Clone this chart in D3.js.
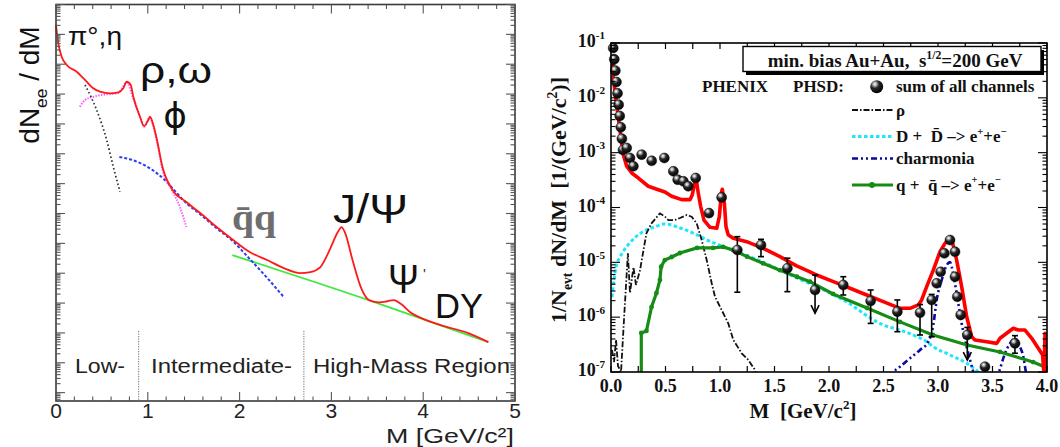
<!DOCTYPE html>
<html><head><meta charset="utf-8">
<script src="https://cdn.jsdelivr.net/npm/d3@7"></script>
<style>body{margin:0;background:#fff;} svg{display:block;}</style>
</head><body>
<svg id="c" width="1060" height="447"></svg>
<script>
// ================= LEFT PANEL DATA (M [GeV/c^2], dN/dM arb. units) =================
const leftXTicks = [0, 1, 2, 3, 4, 5];
const leftTotal = [[0,2.06e-1],[0.025,5.01e-2],[0.062,1.78e-2],[0.117,9.4e-3],[0.225,5.6e-3],[0.334,2.59e-3],[0.406,1.56e-3],[0.479,1.20e-3],[0.588,1.06e-3],[0.679,1.15e-3],[0.733,1.56e-3],[0.770,2.59e-3],[0.814,2.01e-3],[0.842,8.15e-4],[0.915,1.74e-4],[0.959,8.5e-5],[1.005,1.35e-4],[1.024,1.74e-4],[1.060,9.2e-5],[1.10,2.89e-5],[1.16,3.6e-6],[1.27,6.11e-7],[1.42,2.42e-7],[1.57,1.04e-7],[1.75,3.52e-8],[1.93,1.29e-8],[2.11,5.11e-9],[2.30,2.76e-9],[2.48,1.49e-9],[2.66,1.01e-9],[2.77,1.09e-9],[2.88,1.61e-9],[2.99,6.97e-9],[3.07,2.39e-8],[3.11,3.52e-8],[3.15,2.21e-8],[3.23,2.76e-9],[3.32,3.43e-10],[3.41,1.26e-10],[3.52,1.05e-10],[3.61,1.15e-10],[3.68,1.26e-10],[3.76,9.25e-11],[3.87,4.63e-11],[3.98,3.14e-11],[4.19,1.83e-11],[4.49,9.89e-12],[4.71,4.93e-12]];
const leftPiEta = [[0.316,2.01e-3],[0.443,2.92e-4],[0.552,2.89e-5],[0.624,3.68e-6],[0.697,5.36e-7]];
const leftVector = [[0.26,3.77e-4],[0.316,6.32e-4],[0.41,8.15e-4],[0.515,9.5e-4],[0.588,1.0e-3],[0.68,1.1e-3],[0.77,2.4e-3],[0.84,7.5e-4],[0.92,1.6e-4],[0.96,8e-5],[1.02,1.6e-4],[1.06,8.5e-5],[1.10,2.6e-5],[1.16,3.0e-6],[1.27,5.5e-7],[1.35,1.64e-7],[1.42,3.52e-8]];
const leftCharm = [[0.69,7.8e-6],[0.83,6.2e-6],[1.02,3.3e-6],[1.20,1.2e-6],[1.30,5.5e-7],[1.42,2.2e-7],[1.57,9.5e-8],[1.75,3.2e-8],[1.93,1.15e-8],[2.11,3.0e-9],[2.30,7.0e-10],[2.48,1.6e-10]];
const leftDY = [[1.92,4.06e-9],[3.50,1.0e-10],[4.71,4.93e-12]];
const regionBoundaries = [0.9, 2.7];
const regionBoundaryTop = 1.15e-11;

// ================= RIGHT PANEL DATA =================
const rightXTicks = [0.0,0.5,1.0,1.5,2.0,2.5,3.0,3.5,4.0];
const rightYExponents = [-1,-2,-3,-4,-5,-6,-7];
const phsdSum = [[0.006,6.1e-2],[0.021,2.3e-2],[0.052,7.5e-3],[0.083,2.45e-3],[0.113,9.2e-4],[0.144,5.65e-4],[0.190,4.26e-4],[0.251,3.45e-4],[0.342,2.44e-4],[0.434,2.11e-4],[0.495,1.92e-4],[0.557,1.60e-4],[0.648,1.39e-4],[0.725,1.39e-4],[0.746,1.71e-4],[0.771,3.0e-4],[0.780,3.41e-4],[0.801,1.82e-4],[0.823,1.04e-4],[0.853,5.9e-5],[0.908,4.35e-5],[0.970,4.18e-5],[0.994,6.8e-5],[1.012,1.82e-4],[1.021,2.15e-4],[1.040,1.19e-4],[1.055,4.47e-5],[1.076,3.16e-5],[1.122,2.74e-5],[1.245,2.38e-5],[1.397,1.80e-5],[1.550,1.27e-5],[1.703,8.6e-6],[1.826,6.7e-6],[1.887,5.87e-6],[2.040,4.44e-6],[2.193,3.37e-6],[2.346,2.54e-6],[2.498,1.92e-6],[2.651,1.45e-6],[2.743,1.45e-6],[2.820,1.67e-6],[2.850,2.06e-6],[2.896,3.6e-6],[2.957,7.2e-6],[3.018,1.56e-5],[3.064,2.22e-5],[3.104,2.74e-5],[3.135,2.22e-5],[3.171,1.10e-5],[3.217,3.6e-6],[3.263,1.02e-6],[3.309,4.4e-7],[3.339,3.84e-7],[3.447,3.57e-7],[3.539,3.33e-7],[3.569,4.12e-7],[3.630,5.08e-7],[3.691,6.27e-7],[3.737,5.83e-7],[3.798,5.83e-7],[3.860,4.12e-7],[3.920,2.70e-7],[3.960,2.04e-7],[3.972,9.0e-8],[3.982,5.08e-7],[3.997,8.0e-8]];
const rhoChannel = [[0.009,2.52e-7],[0.028,1.52e-7],[0.046,3.84e-7],[0.064,1.29e-7],[0.092,1.0e-7],[0.119,8.9e-7],[0.155,1.46e-5],[0.174,2.76e-6],[0.206,8.2e-6],[0.229,3.87e-6],[0.266,7.2e-6],[0.325,3.39e-5],[0.372,5.15e-5],[0.449,7.83e-5],[0.495,6.79e-5],[0.526,5.91e-5],[0.587,5.91e-5],[0.633,6.44e-5],[0.695,7.29e-5],[0.740,6.79e-5],[0.786,5.15e-5],[0.832,2.55e-5],[0.878,1.10e-5],[0.924,4.15e-6],[0.954,2.36e-6],[1.030,1.18e-6],[1.076,7.7e-7],[1.122,3.84e-7],[1.199,2.19e-7],[1.260,1.66e-7],[1.321,1.09e-7],[1.34,8.0e-8]];
const ddbarChannel = [[0.009,2.33e-6],[0.046,8.2e-6],[0.083,1.25e-5],[0.156,2.07e-5],[0.275,3.43e-5],[0.399,4.42e-5],[0.492,5.0e-5],[0.642,4.18e-5],[0.789,3.16e-5],[0.881,2.55e-5],[0.954,2.22e-5],[1.110,1.68e-5],[1.394,1.01e-5],[1.706,5.17e-6],[2.009,2.76e-6],[2.193,1.74e-6],[2.361,1.02e-6],[2.498,7.2e-7],[2.651,5.83e-7],[2.773,4.73e-7],[2.896,3.57e-7],[2.957,2.89e-7],[3.110,2.04e-7],[3.263,1.44e-7],[3.370,1.0e-7],[3.42,8.0e-8]];
const charmoniaChannel = [[2.55,8.0e-8],[2.590,1.0e-7],[2.651,1.25e-7],[2.743,1.78e-7],[2.835,2.52e-7],[2.911,3.57e-7],[2.957,7.2e-7],[2.988,2.06e-6],[3.034,4.76e-6],[3.080,8.9e-6],[3.110,1.01e-5],[3.141,5.87e-6],[3.186,1.79e-6],[3.217,7.7e-7],[3.263,2.89e-7],[3.294,1.66e-7],[3.324,1.0e-7],[3.36,6.0e-8],[3.52,6.0e-8],[3.560,1.0e-7],[3.615,2.19e-7],[3.661,3.33e-7],[3.706,4.12e-7],[3.752,2.89e-7],[3.783,1.90e-7],[3.807,1.0e-7],[3.84,7.0e-8]];
const qqbarChannel = [[0.278,8.0e-8],[0.278,5.14e-7],[0.325,5.6e-7],[0.372,1.53e-6],[0.417,2.76e-6],[0.449,4.76e-6],[0.46,8.3e-6],[0.494,1.10e-5],[0.557,1.25e-5],[0.633,1.48e-5],[0.789,1.83e-5],[0.936,1.83e-5],[1.028,1.91e-5],[1.119,1.68e-5],[1.248,1.27e-5],[1.394,9.6e-6],[1.550,7.2e-6],[1.706,5.47e-6],[1.826,4.44e-6],[2.037,2.65e-6],[2.349,1.47e-6],[2.651,8.2e-7],[2.954,4.73e-7],[3.266,3.10e-7],[3.569,2.32e-7],[3.872,1.52e-7],[3.982,1.23e-7]];
const phenixPoints = [[0.02,8.1e-2],[0.03,5.05e-2],[0.04,3.13e-2],[0.05,1.95e-2],[0.06,1.21e-2],[0.07,7.5e-3],[0.08,4.67e-3],[0.09,2.90e-3],[0.10,1.80e-3],[0.11,1.12e-3],[0.144,1.22e-3],[0.174,8.0e-4],[0.205,5.65e-4],[0.281,9.2e-4],[0.373,7.1e-4],[0.489,8.0e-4],[0.572,4.57e-4],[0.612,3.21e-4],[0.664,3.0e-4],[0.709,2.44e-4],[0.777,3.45e-4],[0.899,7.9e-5],[1.015,1.53e-4],[1.159,1.68e-5],[1.376,2.07e-5],[1.618,7.8e-6],[1.872,3.13e-6],[2.131,3.87e-6],[2.382,1.97e-6],[2.627,1.26e-6],[2.835,1.21e-6],[2.942,2.06e-6],[2.988,4.15e-6],[3.024,6.7e-6],[3.058,1.46e-5],[3.110,2.55e-5],[3.156,1.56e-5],[3.156,5.47e-6],[3.177,2.36e-6],[3.208,1.10e-6],[3.269,4.73e-7],[3.431,1.25e-7],[3.706,3.33e-7]];
const phenixErrors = [[1.159,2.85e-6,2.94e-5],[1.376,1.27e-5,2.63e-5],[1.618,2.92e-6,1.19e-5],[2.131,2.54e-6,5.47e-6],[2.382,7.7e-7,3.13e-6],[2.627,5.43e-7,2.06e-6],[2.835,4.73e-7,1.7e-6],[2.942,4.4e-7,2.6e-6],[3.706,2.2e-7,4.6e-7]];
const phenixUpperLimits = [[1.872,5.87e-6,1.18e-6],[3.269,6.5e-7,1.65e-7]];

// ================= DRAWING =================
const svg = d3.select("#c");
const defs = svg.append("defs");
const gr = defs.append("radialGradient").attr("id","ball").attr("cx","0.36").attr("cy","0.3").attr("r","0.72");
gr.append("stop").attr("offset","0").attr("stop-color","#ffffff");
gr.append("stop").attr("offset","0.16").attr("stop-color","#c0c0c0");
gr.append("stop").attr("offset","0.45").attr("stop-color","#262626");
gr.append("stop").attr("offset","1").attr("stop-color","#000");

function rich(sel, parts, base){
  let shift = 0;
  parts.forEach(([s, kind]) => {
    const target = kind === 'sup' ? -base*0.42 : kind === 'sub' ? base*0.28 : 0;
    const t = sel.append("tspan").text(s).attr("dy", target - shift);
    if (kind !== 'n') t.attr("font-size", base*0.62);
    shift = target;
  });
  return sel;
}

// ---------- Left panel ----------
const xL = d3.scaleLinear().domain([0,5]).range([56,515]);
const yL = d3.scaleLog().domain([Math.pow(10,-13.28),1]).range([401,4.5]);
const L = svg.append("g");
const sansL = "'Liberation Sans', Arial, Helvetica, sans-serif";
const lineL = d3.line().x(d=>xL(d[0])).y(d=>yL(d[1])).curve(d3.curveMonotoneX);

regionBoundaries.forEach(m => {
  L.append("line").attr("x1",xL(m)).attr("x2",xL(m)).attr("y1",yL(regionBoundaryTop)).attr("y2",yL.range()[0])
   .attr("stroke","#8a8a8a").attr("stroke-width",1.2).attr("stroke-dasharray","1.2,1.3");
});
L.append("path").datum(leftDY).attr("d",lineL).attr("fill","none").attr("stroke","#3ee83e").attr("stroke-width",1.8);
L.append("path").datum(leftCharm).attr("d",lineL).attr("fill","none").attr("stroke","#2a3cf5").attr("stroke-width",2).attr("stroke-dasharray","3,2");
L.append("path").datum(leftVector).attr("d",lineL).attr("fill","none").attr("stroke","#ff55ff").attr("stroke-width",2).attr("stroke-dasharray","1.4,1.4");
L.append("path").datum(leftPiEta).attr("d",lineL).attr("fill","none").attr("stroke","#333").attr("stroke-width",1.7).attr("stroke-dasharray","1.6,2.4");
L.append("path").datum(leftTotal).attr("d",lineL).attr("fill","none").attr("stroke","#ff1a1a").attr("stroke-width",1.8);

const [lx0,lx1] = xL.range(), [ly1,ly0] = yL.range();
L.append("rect").attr("x",lx0).attr("y",ly0).attr("width",lx1-lx0).attr("height",ly1-ly0).attr("fill","none").attr("stroke","#3a3a3a").attr("stroke-width",1.6);
d3.range(0,5.0001,0.2).forEach(v=>{
  const major = Math.abs(v-Math.round(v))<1e-6, len = major?9:4.5, x = xL(v);
  L.append("line").attr("x1",x).attr("x2",x).attr("y1",ly1).attr("y2",ly1-len).attr("stroke","#555").attr("stroke-width",1.1);
  L.append("line").attr("x1",x).attr("x2",x).attr("y1",ly0).attr("y2",ly0+len).attr("stroke","#555").attr("stroke-width",1.1);
});
for (let k=-14;k<=0;k++){
  for (let m=1;m<=9;m++){
    const v = m*Math.pow(10,k);
    if (v < yL.domain()[0] || v > 1) continue;
    const len = m===1?9:4.5, y = yL(v);
    L.append("line").attr("x1",lx0).attr("x2",lx0+len).attr("y1",y).attr("y2",y).attr("stroke","#555").attr("stroke-width",1.1);
    L.append("line").attr("x1",lx1).attr("x2",lx1-len).attr("y1",y).attr("y2",y).attr("stroke","#555").attr("stroke-width",1.1);
  }
}
leftXTicks.forEach(v=>{
  L.append("text").attr("x",xL(v)).attr("y",418).attr("text-anchor","middle").attr("font-family",sansL).attr("font-size",21).attr("fill","#222").text(v);
});
L.append("text").attr("x",514).attr("y",443).attr("text-anchor","end").attr("font-family",sansL).attr("font-size",21).attr("fill","#222")
  .attr("textLength",128).attr("lengthAdjust","spacingAndGlyphs").text("M [GeV/c²]");
rich(L.append("text").attr("transform","translate(39,85) rotate(-90)").attr("text-anchor","middle").attr("font-family",sansL).attr("font-size",28).attr("fill","#111"),
  [["dN","n"],["ee","sub"],[" / dM","n"]], 28);

function lbl(x,y,txt,size,len,opts={}){
  const t = L.append("text").attr("x",x).attr("y",y).attr("font-family",opts.family||sansL).attr("font-size",size).attr("fill",opts.fill||"#111").text(txt);
  if (len) t.attr("textLength",len).attr("lengthAdjust","spacingAndGlyphs");
  if (opts.weight) t.attr("font-weight",opts.weight);
  if (opts.anchor) t.attr("text-anchor",opts.anchor);
  return t;
}
lbl(68,45,"π°,η",26,54);
lbl(140,83,"ρ,ω",37,72);
lbl(175,128,"ϕ",36,null,{anchor:"middle",family:"'DejaVu Sans', sans-serif"});
lbl(232,230,"q̄q",37,44,{family:"'Liberation Serif', 'Times New Roman', serif",weight:"bold",fill:"#6e6e6e"});
lbl(333,223,"J/Ψ",41,75);
lbl(388,293,"Ψ",41,31);
lbl(423,279,"'",15,null,{fill:"#333"});
lbl(435,318,"DY",35,48);
lbl(75,373,"Low-",20,50,{fill:"#222"});
lbl(151,373,"Intermediate-",20,141,{fill:"#222"});
lbl(313,373,"High-Mass Region",20,197,{fill:"#222"});

// ---------- Right panel ----------
const xR = d3.scaleLinear().domain([0,4]).range([611,1047]);
const yR = d3.scaleLog().domain([1e-7,1e-1]).range([372,43]);
const R = svg.append("g");
const serif = "'Liberation Serif', 'Times New Roman', serif";
const [rx0,rx1] = xR.range(), [ry1,ry0] = yR.range();
defs.append("clipPath").attr("id","clipR").append("rect").attr("x",rx0).attr("y",ry0).attr("width",rx1-rx0).attr("height",ry1-ry0);
const plot = R.append("g").attr("clip-path","url(#clipR)");
const lin = d3.line().x(d=>xR(d[0])).y(d=>yR(d[1]));
const smooth = d3.line().x(d=>xR(d[0])).y(d=>yR(d[1])).curve(d3.curveMonotoneX);

plot.append("path").datum(ddbarChannel).attr("d",smooth).attr("fill","none").attr("stroke","#1ee6ff").attr("stroke-width",3).attr("stroke-dasharray","3.5,2.5");
plot.append("path").datum(rhoChannel).attr("d",lin).attr("fill","none").attr("stroke","#111").attr("stroke-width",1.8).attr("stroke-dasharray","6,2,1.5,2");
plot.append("path").datum(charmoniaChannel).attr("d",smooth).attr("fill","none").attr("stroke","#0a0aa0").attr("stroke-width",2.6).attr("stroke-dasharray","6,3,2,3,2,3");
plot.append("path").datum(qqbarChannel).attr("d",lin).attr("fill","none").attr("stroke","#168c16").attr("stroke-width",3.2);
plot.selectAll("circle.qq").data(qqbarChannel.filter(d=>d[1]>1e-7)).enter().append("circle").attr("class","qq")
  .attr("cx",d=>xR(d[0])).attr("cy",d=>yR(d[1])).attr("r",2.4).attr("fill","#168c16");

const eb = R.append("g").attr("stroke","#000").attr("stroke-width",1.6);
phenixErrors.forEach(([m,lo,hi])=>{
  const x = xR(m);
  eb.append("line").attr("x1",x).attr("x2",x).attr("y1",yR(lo)).attr("y2",yR(hi));
  [lo,hi].forEach(v=>eb.append("line").attr("x1",x-3).attr("x2",x+3).attr("y1",yR(v)).attr("y2",yR(v)));
});
phenixUpperLimits.forEach(([m,top,tip])=>{
  const x = xR(m), yt = yR(tip);
  eb.append("line").attr("x1",x).attr("x2",x).attr("y1",yR(top)).attr("y2",yt);
  eb.append("line").attr("x1",x-3).attr("x2",x+3).attr("y1",yR(top)).attr("y2",yR(top));
  eb.append("path").attr("d",`M${x-4},${yt-8}L${x},${yt}L${x+4},${yt-8}`).attr("fill","none");
});
R.selectAll("circle.ph").data(phenixPoints).enter().append("circle").attr("class","ph")
  .attr("cx",d=>xR(d[0])).attr("cy",d=>yR(d[1])).attr("r",5).attr("fill","url(#ball)").attr("stroke","#111").attr("stroke-width",0.5);

plot.append("path").datum(phsdSum).attr("d",lin).attr("fill","none").attr("stroke","#ff0000").attr("stroke-width",3.6).attr("stroke-linejoin","round");

R.append("rect").attr("x",rx0).attr("y",ry0).attr("width",rx1-rx0).attr("height",ry1-ry0).attr("fill","none").attr("stroke","#000").attr("stroke-width",1.6);
d3.range(0,4.0001,0.25).forEach(v=>{
  const x = xR(v), len = 6;
  R.append("line").attr("x1",x).attr("x2",x).attr("y1",ry1).attr("y2",ry1-len).attr("stroke","#000").attr("stroke-width",1.2);
  R.append("line").attr("x1",x).attr("x2",x).attr("y1",ry0).attr("y2",ry0+len).attr("stroke","#000").attr("stroke-width",1.2);
});
for (let k=-7;k<=-1;k++){
  for (let m=1;m<=9;m++){
    const v = m*Math.pow(10,k);
    if (v > 0.1000001) continue;
    const len = m===1?9:4.5, y = yR(v);
    R.append("line").attr("x1",rx0).attr("x2",rx0+len).attr("y1",y).attr("y2",y).attr("stroke","#000").attr("stroke-width",1.1);
    R.append("line").attr("x1",rx1).attr("x2",rx1-len).attr("y1",y).attr("y2",y).attr("stroke","#000").attr("stroke-width",1.1);
  }
}
rightXTicks.forEach(v=>{
  R.append("text").attr("x",xR(v)).attr("y",392).attr("text-anchor","middle").attr("font-family",serif).attr("font-weight","bold").attr("font-size",18).attr("fill","#111").text(v.toFixed(1));
});
rightYExponents.forEach(e=>{
  rich(R.append("text").attr("x",605).attr("y",yR(Math.pow(10,e))+4).attr("text-anchor","end").attr("font-family",serif).attr("font-weight","bold").attr("font-size",18).attr("fill","#111"),
    [["10","n"],[String(e),"sup"]],18);
});
rich(R.append("text").attr("x",803).attr("y",418).attr("text-anchor","middle").attr("font-family",serif).attr("font-weight","bold").attr("font-size",21).attr("fill","#111"),
  [["M\u00a0\u00a0[GeV/c","n"],["2","sup"],["]","n"]],21);
rich(R.append("text").attr("transform","translate(566,200) rotate(-90)").attr("text-anchor","middle").attr("font-family",serif).attr("font-weight","bold").attr("font-size",22).attr("fill","#111"),
  [["1/N","n"],["evt","sub"],[" dN/dM\u00a0\u00a0[1/(GeV/c","n"],["2","sup"],[")]","n"]],22);

// legend
R.append("rect").attr("x",746).attr("y",50).attr("width",298).attr("height",25).attr("fill","#000");
R.append("rect").attr("x",743).attr("y",46.5).attr("width",298).attr("height",25).attr("fill","#fff").attr("stroke","#000").attr("stroke-width",1.4);
rich(R.append("text").attr("x",895).attr("y",66.5).attr("text-anchor","middle").attr("font-family",serif).attr("font-weight","bold").attr("font-size",19).attr("fill","#111"),
  [["min. bias Au+Au,\u00a0 s","n"],["1/2","sup"],["=200 GeV","n"]],19);
const legTxt = (x,y,parts,size=17)=>rich(R.append("text").attr("x",x).attr("y",y).attr("font-family",serif).attr("font-weight","bold").attr("font-size",size).attr("fill","#111"),parts,size);
legTxt(702,92,[["PHENIX","n"]]);
legTxt(793,92,[["PHSD:","n"]]);
R.append("circle").attr("cx",876.7).attr("cy",86.7).attr("r",6.5).attr("fill","url(#ball)");
legTxt(896,92,[["sum of all channels","n"]]);
const legendRows = [
  {y:110, txt:[["ρ","n"]], stroke:"#111", w:1.8, dash:"6,2,1.5,2"},
  {y:136.5, txt:[["D +\u00a0 D̄ –> e","n"],["+","sup"],["+e","n"],["−","sup"]], stroke:"#1ee6ff", w:3, dash:"3.5,2.5"},
  {y:158.5, txt:[["charmonia","n"]], stroke:"#0a0aa0", w:2.6, dash:"6,3,2,3,2,3"},
  {y:185, txt:[["q +\u00a0 q̄ –> e","n"],["+","sup"],["+e","n"],["−","sup"]], stroke:"#168c16", w:3, dash:null}
];
legendRows.forEach((r,i)=>{
  const ln = R.append("line").attr("x1",852).attr("x2",893).attr("y1",r.y).attr("y2",r.y).attr("stroke",r.stroke).attr("stroke-width",r.w);
  if (r.dash) ln.attr("stroke-dasharray",r.dash);
  if (i===3) R.append("circle").attr("cx",872).attr("cy",r.y).attr("r",3).attr("fill",r.stroke);
  legTxt(896,r.y+5.5,r.txt);
});
</script>
</body></html>
